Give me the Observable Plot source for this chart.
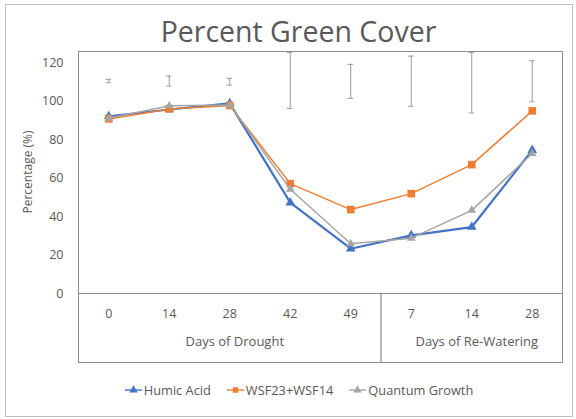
<!DOCTYPE html>
<html><head><meta charset="utf-8">
<script src="https://cdn.jsdelivr.net/npm/d3@7"></script>
<script src="https://cdn.jsdelivr.net/npm/@observablehq/plot@0.6"></script>
<style>
body{margin:0;background:#fff;font-family:"Open Sans",sans-serif;}
#wrap{position:relative;width:576px;height:419px;overflow:hidden;}
#border{position:absolute;left:5px;top:4px;width:568px;height:413px;border:1px solid #bfbfbf;box-sizing:border-box;}
#title{position:absolute;left:0;width:597px;top:12px;text-align:center;font-size:28.5px;color:#595959;line-height:38px;}
#ylab{position:absolute;left:27px;top:172px;transform:translate(-50%,-50%) rotate(-90deg);font-size:12px;color:#595959;white-space:nowrap;}
#legend{position:absolute;left:0;width:598px;top:381px;text-align:center;font-size:12.8px;color:#595959;white-space:nowrap;}
#legend span.item{display:inline-flex;align-items:center;margin:0 8px;}
#legend svg{margin-right:2px;}
#chart{position:absolute;left:0;top:0;}
</style></head>
<body>
<div id="wrap">
  <div id="border"></div>
  <div id="chart"></div>
  <div id="title">Percent Green Cover</div>
  <div id="ylab">Percentage (%)</div>
  <div id="legend"></div>
</div>
<script>
// ---- data ----
const dayLabels = ["0", "14", "28", "42", "49", "7", "14", "28"];
const groupLabels = ["Days of Drought", "Days of Re-Watering"];
const groupStart = [0, 5];
const groupEnd = [4, 7];
const seriesNames = ["Humic Acid", "WSF23+WSF14", "Quantum Growth"];
const humicAcid = [92.3, 95.8, 99.0, 47.3, 23.3, 30.3, 34.6, 74.6];
const wsf = [90.9, 96.1, 97.9, 57.2, 43.7, 52.0, 67.1, 95.1];
const quantumGrowth = [91.3, 97.7, 98.2, 54.3, 25.9, 28.8, 43.3, 72.9];
const errLow = [109.7, 108.0, 108.5, 96.3, 101.6, 97.5, 94.0, 99.8];
const errHigh = [111.5, 113.2, 112.0, 125.5, 119.3, 123.6, 125.5, 121.2];
const yTicks = [0, 20, 40, 60, 80, 100, 120];
const colors = ["#4472C4", "#ED7D31", "#A5A5A5"];
const symbols = ["triangle", "square", "triangle"];

// ---- build tables ----
const seriesValues = [humicAcid, wsf, quantumGrowth];
const cats = dayLabels.map((label, i) => ({i, label}));
const groups = groupLabels.map((label, k) => ({label, start: groupStart[k], end: groupEnd[k]}));
const bounds = groups.slice(1).map(g => g.start - 0.5);
const err = dayLabels.map((_, i) => ({i, lo: errLow[i], hi: errHigh[i]}));
const capHalf = 0.045;
const dotR = [3.6, 4.3, 3.2];

const marks = [
  Plot.frame({stroke: "#8c8c8c"}),
  Plot.ruleY([0], {stroke: "#8c8c8c"}),
  Plot.ruleX(bounds, {stroke: "#6f6f6f", insetTop: 242}),
  Plot.axisY({ticks: yTicks, tickSize: 0, tickPadding: 15, label: null, fontSize: 12.5, color: "#595959"}),
  Plot.text(cats, {x: "i", y: () => 0, text: "label", dy: 20, fontSize: 12.5, fill: "#595959"}),
  Plot.text(groups, {x: d => (d.start + d.end) / 2, y: () => 0, text: "label", dy: 48, dx: 5, fontSize: 13, fill: "#595959"}),
  Plot.ruleX(err, {x: "i", y1: "lo", y2: "hi", stroke: "#9a9a9a", strokeWidth: 1}),
  Plot.ruleY(err, {x1: d => d.i - capHalf, x2: d => d.i + capHalf, y: "lo", stroke: "#9a9a9a"}),
  Plot.ruleY(err, {x1: d => d.i - capHalf, x2: d => d.i + capHalf, y: "hi", stroke: "#9a9a9a"})
];
seriesNames.forEach((name, s) => {
  const rows = seriesValues[s].map((v, i) => ({i, v}));
  marks.push(Plot.line(rows, {x: "i", y: "v", stroke: colors[s], strokeWidth: s === 0 ? 2.2 : 1.5}));
  marks.push(Plot.dot(rows, {x: "i", y: "v", symbol: () => symbols[s], fill: colors[s], r: dotR[s], stroke: "none"}));
});

const chart = Plot.plot({
  width: 576,
  height: 370,
  marginTop: 51,
  marginLeft: 78,
  marginRight: 14,
  marginBottom: 8,
  style: {fontFamily: "'Open Sans', sans-serif", background: "transparent"},
  x: {domain: [-0.5, dayLabels.length - 0.5], axis: null},
  y: {domain: [0, 126], range: [293, 51], axis: null},
  symbol: {type: "identity"},
  marks
});
document.getElementById("chart").appendChild(chart);

// legend
const leg = document.getElementById("legend");
seriesNames.forEach((name, s) => {
  const item = document.createElement("span");
  item.className = "item";
  const sw = d3.create("svg").attr("width", 17).attr("height", 10);
  sw.append("line").attr("x1", 0).attr("x2", 17).attr("y1", 5).attr("y2", 5).attr("stroke", colors[s]).attr("stroke-width", 1.4);
  sw.append("path").attr("transform", "translate(8.5,5)")
    .attr("d", d3.symbol(symbols[s] === "square" ? d3.symbolSquare : d3.symbolTriangle, 30)())
    .attr("fill", colors[s]);
  item.appendChild(sw.node());
  const t = document.createElement("span");
  t.textContent = name;
  item.appendChild(t);
  leg.appendChild(item);
});
</script>
</body></html>
